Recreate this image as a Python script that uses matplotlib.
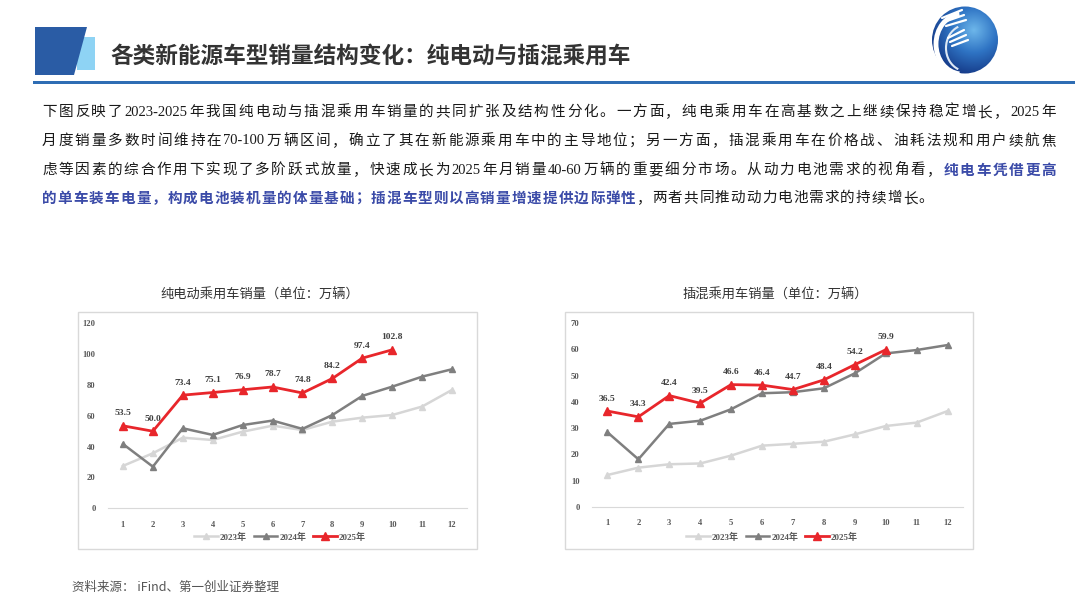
import matplotlib
matplotlib.use('Agg')
import matplotlib.pyplot as plt
from matplotlib.patches import Rectangle, Polygon, Ellipse, Arc
import numpy as np

# ---- data (万辆) ----
months = list(range(1, 13))
month_labels = [str(m) for m in months]
series_names = ['2023年', '2024年', '2025年']

bev_2023 = [27.5, 35.7, 45.8, 44.3, 49.7, 53.6, 50.8, 56.2, 58.8, 60.5, 66.0, 76.8]
bev_2024 = [41.7, 27.0, 51.9, 47.6, 54.0, 56.9, 51.5, 60.5, 72.9, 78.9, 85.4, 90.2]
bev_2025 = [53.5, 50.0, 73.4, 75.1, 76.9, 78.7, 74.8, 84.2, 97.4, 102.8]

phev_2023 = [12.1, 14.9, 16.2, 16.5, 19.5, 23.3, 24.0, 24.8, 27.6, 30.8, 32.1, 36.5]
phev_2024 = [28.4, 18.1, 31.6, 32.8, 37.2, 43.3, 43.7, 45.2, 50.9, 58.5, 59.8, 61.7]
phev_2025 = [36.5, 34.3, 42.4, 39.5, 46.6, 46.4, 44.7, 48.4, 54.2, 59.9]

page_title = '各类新能源车型销量结构变化：纯电动与插混乘用车'
bev_title = '纯电动乘用车销量（单位：万辆）'
phev_title = '插混乘用车销量（单位：万辆）'
source_note = '资料来源： iFind、第一创业证券整理'

# paragraph lines: list of (text, highlighted)
para_lines = [
    [('下图反映了2023-2025年我国纯电动与插混乘用车销量的共同扩张及结构性分化。一方面，纯电乘用车在高基数之上继续保持稳定增长，2025年', False)],
    [('月度销量多数时间维持在70-100万辆区间，确立了其在新能源乘用车中的主导地位；另一方面，插混乘用车在价格战、油耗法规和用户续航焦', False)],
    [('虑等因素的综合作用下实现了多阶跃式放量，快速成长为2025年月销量40-60万辆的重要细分市场。从动力电池需求的视角看，', False),
     ('纯电车凭借更高', True)],
    [('的单车装车电量，构成电池装机量的体量基础；插混车型则以高销量增速提供边际弹性', True),
     ('，两者共同推动动力电池需求的持续增长。', False)],
]

W, H = 1080, 607
CJK = 'Noto Sans CJK SC'
SERIF = 'Liberation Serif'
c23, c24, c25 = '#D6D6D6', '#7F7F7F', '#E8262B'

fig = plt.figure(figsize=(W / 100, H / 100), dpi=100)
fig.patch.set_facecolor('white')


def fx(px):
    return px / W


def fy(py):
    return 1 - py / H


# ---- header ----
fig.patches.append(Rectangle((fx(77), fy(70)), fx(18), 33 / H, transform=fig.transFigure,
                             fc='#8ED3F4', ec='none'))
fig.patches.append(Polygon([(fx(35), fy(27)), (fx(87), fy(27)), (fx(74), fy(75)), (fx(35), fy(75))],
                           closed=True, transform=fig.transFigure, fc='#2A5CA5', ec='none'))
fig.patches.append(Rectangle((fx(33), fy(84)), fx(1042), 3 / H, transform=fig.transFigure,
                             fc='#2E6DB4', ec='none'))
fig.text(fx(110), fy(56), page_title, fontsize=16.3, fontweight='bold', family=CJK,
         color='#333333', va='center', ha='left')

# logo
lax = fig.add_axes([fx(928), fy(76), fx(74), 74 / H])
lax.set_xlim(0, 74)
lax.set_ylim(74, 0)
lax.axis('off')
yy, xx = np.mgrid[0:74:200j, 0:74:200j]
r = np.hypot(xx - 46, yy - 28) / 45
grad = np.clip(r, 0, 1)
img = lax.imshow(grad, extent=(0, 74, 74, 0), cmap=matplotlib.colors.LinearSegmentedColormap.from_list(
    'g', ['#6DB6EA', '#2F74C4', '#163C8A']), interpolation='bilinear')
circ = Ellipse((37, 38), 66, 67, transform=lax.transData)
img.set_clip_path(circ)
lax.add_patch(Arc((34, 42), 52, 60, theta1=95, theta2=265, color='white', lw=3.5))
lax.add_patch(Arc((38, 46), 40, 46, theta1=110, theta2=250, color='#DDE8F5', lw=1.5))
for (x0, y0, x1, y1) in [(14, 16, 34, 8), (16, 20, 36, 13), (18, 24, 38, 18),
                         (20, 36, 36, 28), (22, 40, 38, 33), (24, 44, 40, 38)]:
    lax.plot([x0, x1], [y0, y1], color='white', lw=1.6, solid_capstyle='round')

# ---- paragraph (justified) ----
renderer = fig.canvas.get_renderer()


def tokens_of(text):
    out, buf = [], ''
    for ch in text:
        if ord(ch) < 128:
            buf += ch
        else:
            if buf:
                out.append(buf)
                buf = ''
            out.append(ch)
    if buf:
        out.append(buf)
    return out


line_y = [112, 141, 170, 198]
x_left, x_right = 42, 1056
last_right = 933
fsize = 10.5
for i, line in enumerate(para_lines):
    items = []
    for seg, hl in line:
        for tk in tokens_of(seg):
            fam = SERIF if ord(tk[0]) < 128 else CJK
            t = fig.text(0, fy(line_y[i]), tk, fontsize=fsize, family=fam, va='center', ha='left',
                         color='#3B4BA8' if hl else '#1A1A1A', fontweight='bold' if hl else 'normal')
            wdt = t.get_window_extent(renderer).width
            items.append((t, wdt))
    total = sum(w for _, w in items)
    right = x_right if i < len(para_lines) - 1 else last_right
    gap = (right - x_left - total) / (len(items) - 1)
    x = x_left
    for t, wdt in items:
        t.set_x(fx(x))
        x += wdt + gap

# ---- charts ----


def draw_chart(box, rect, title, title_x, d23, d24, d25, ymax, ystep, legend_x):
    x0, y0, x1, y1 = box
    fig.patches.append(Rectangle((fx(x0), fy(y1)), fx(x1 - x0), (y1 - y0) / H, transform=fig.transFigure,
                                 fill=False, ec='#D9D9D9', lw=1))
    fig.text(fx(title_x), fy(295), title, fontsize=9.5, family=CJK, color='#333333', ha='center', va='center')
    ax = fig.add_axes(rect)
    ax.plot(months[:len(d23)], d23, color=c23, lw=1.8, marker='^', ms=5, label=series_names[0])
    ax.plot(months[:len(d24)], d24, color=c24, lw=1.8, marker='^', ms=5, label=series_names[1])
    ax.plot(months[:len(d25)], d25, color=c25, lw=2.0, marker='^', ms=5.5, label=series_names[2], zorder=4)
    for m, v in zip(months, d25):
        ax.annotate(f'{v:.1f}', (m, v), xytext=(0, 9), textcoords='offset points', ha='center', va='center',
                    fontsize=6.8, family=SERIF, fontweight='bold', color='#404040')
    ax.set_xlim(0.5, 12.5)
    ax.set_ylim(0, ymax)
    ax.set_xticks(months)
    ax.set_xticklabels(month_labels)
    ax.set_yticks(np.arange(0, ymax + 1, ystep))
    for s in ['top', 'right', 'left']:
        ax.spines[s].set_visible(False)
    ax.spines['bottom'].set_color('#D9D9D9')
    ax.tick_params(length=0, labelsize=6.2, colors='#595959', pad=9)
    for lb in ax.get_xticklabels() + ax.get_yticklabels():
        lb.set_family(SERIF)
        lb.set_fontweight('bold')
    ax.set_facecolor('none')
    leg = ax.legend(loc='center', bbox_to_anchor=(fx(legend_x), fy(537)), bbox_transform=fig.transFigure,
                    ncol=3, frameon=False, handlelength=2.6, columnspacing=0.8, handletextpad=0.2,
                    prop={'family': [SERIF, CJK], 'size': 6.5, 'weight': 'bold'})
    for txt in leg.get_texts():
        txt.set_color('#595959')
    return ax


draw_chart((78, 312, 477, 549), [fx(108), fy(508.3), fx(359), 185 / H], bev_title, 260,
           bev_2023, bev_2024, bev_2025, 120, 20, 280)
draw_chart((565, 312, 973, 549), [fx(592), fy(506.7), fx(371), 183.4 / H], phev_title, 775,
           phev_2023, phev_2024, phev_2025, 70, 10, 772)

fig.text(fx(72), fy(587), source_note, fontsize=9, family=[CJK], color='#555555', ha='left', va='center')

fig.savefig('out.png', dpi=100)
